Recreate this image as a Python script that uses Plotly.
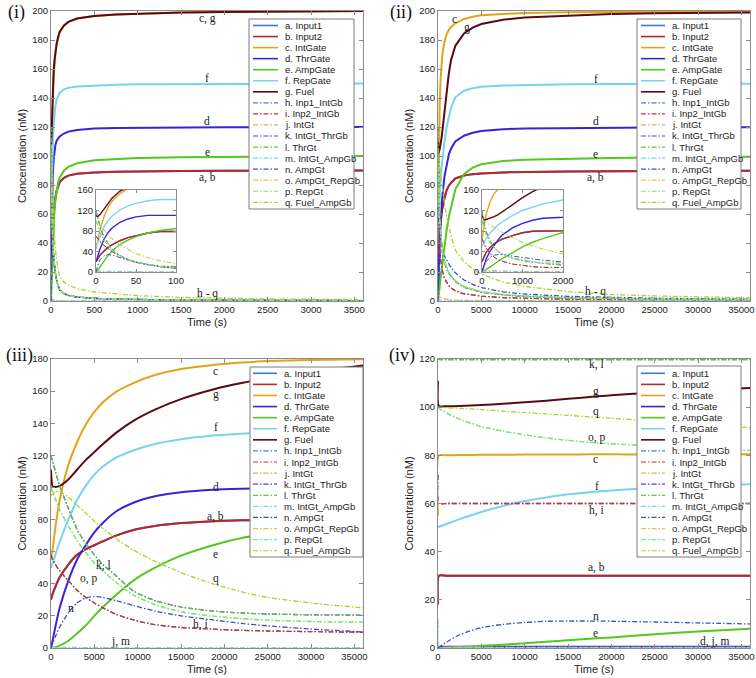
import plotly.graph_objects as go

W, H = 756, 678

NAMES = ["a. Input1", "b. Input2", "c. IntGate", "d. ThrGate", "e. AmpGate", "f. RepGate", "g. Fuel",
         "h. Inp1_IntGb", "i. Inp2_IntGb", "j. IntGt", "k. IntGt_ThrGb", "l. ThrGt", "m. IntGt_AmpGb",
         "n. AmpGt", "o. AmpGt_RepGb", "p. RepGt", "q. Fuel_AmpGb"]
COLORS = ["#4278cc", "#b8262a", "#e3a41a", "#3a22d8", "#55c81e", "#7ad2f3", "#5a0a16",
          "#4a80d0", "#c8352c", "#e6aa55", "#5a3ae8", "#5fc83a", "#70d8f2",
          "#3a52c0", "#f0c24a", "#6cec8c", "#a8d42a"]
SOLID = [True] * 7 + [False] * 10

# ---------------- panel (i) ----------------
P1_T = [0, 2, 5, 10, 15, 20, 30, 40, 50, 65, 80, 100, 150, 200, 300, 500, 750, 1000, 1500, 2000, 2500, 3000, 3600]
P1_A = [20, 26, 33, 41, 48, 53, 61, 67, 71, 76, 79, 82, 85, 86.5, 87.8, 88.7, 89.2, 89.5, 89.7, 89.8, 89.9, 90, 90]
P1_B = [20, 26, 33, 41, 48, 53, 61, 67, 71, 76, 79, 82, 85, 86.5, 87.8, 88.7, 89.2, 89.5, 89.7, 89.8, 89.9, 90, 90]
P1_C = [45, 60, 82, 108, 126, 138, 153, 163, 170, 177, 181.5, 185.5, 190, 192.5, 194.8, 196.6, 197.6, 198.2, 198.9, 199.3, 199.6, 199.8, 200]
P1_D = [20, 30, 45, 64, 77, 86, 97, 103.5, 107.5, 110.5, 112, 113.5, 115.5, 116.8, 118, 118.9, 119.3, 119.5, 119.7, 119.8, 119.9, 120, 120]
P1_E = [0, 3, 10, 22, 32, 41, 54, 62, 69, 76, 81, 85, 90, 92.5, 95, 97, 98.1, 98.7, 99.2, 99.5, 99.7, 99.9, 100]
P1_F = [50, 58, 70, 88, 100, 109, 121, 129, 134, 139, 141.5, 143.5, 146, 147, 148, 148.7, 149.1, 149.4, 149.6, 149.8, 149.9, 150, 150]
P1_G = [110, 108, 112, 122, 134, 144, 158, 166, 171.5, 177.5, 181.5, 185.5, 190, 192.5, 194.8, 196.6, 197.6, 198.2, 198.9, 199.3, 199.6, 199.8, 200]
P1_H = [70, 65, 59, 52, 46, 40, 31, 24, 19, 14, 10.5, 7.5, 5, 3.8, 2.7, 1.8, 1.3, 1, 0.7, 0.5, 0.4, 0.35, 0.3]
P1_I = [70, 65, 59, 52, 46, 40, 31, 24, 19, 14, 10.5, 7.5, 5, 3.8, 2.7, 1.8, 1.3, 1, 0.7, 0.5, 0.4, 0.35, 0.3]
P1_J = [0, 1, 1.5, 1.5, 1.2, 1, 0.7, 0.5, 0.4, 0.3, 0.2, 0.2, 0.1, 0.1, 0.1, 0, 0, 0, 0, 0, 0, 0, 0]
P1_K = [120, 105, 88, 68, 55, 44, 32, 24.5, 19.5, 14.5, 11, 8, 5.2, 3.9, 2.8, 1.8, 1.3, 1, 0.7, 0.5, 0.4, 0.35, 0.3]
P1_L = [120, 105, 88, 68, 55, 44, 32, 24.5, 19.5, 14.5, 11, 8, 5.2, 3.9, 2.8, 1.8, 1.3, 1, 0.7, 0.5, 0.4, 0.35, 0.3]
P1_M = [0, 0.5, 0.8, 0.8, 0.6, 0.5, 0.4, 0.3, 0.2, 0.2, 0.1, 0.1, 0.1, 0, 0, 0, 0, 0, 0, 0, 0, 0, 0]
P1_N = [0, 12, 24, 32, 34, 33, 28, 23, 18.5, 14, 10.5, 7.5, 5, 3.8, 2.7, 1.8, 1.3, 1, 0.7, 0.5, 0.4, 0.35, 0.3]
P1_O = [100, 90, 77, 62, 51, 42, 31, 24, 19, 14, 10.5, 7.5, 5, 3.8, 2.7, 1.8, 1.3, 1, 0.7, 0.5, 0.4, 0.35, 0.3]
P1_P = [100, 90, 77, 62, 51, 42, 31, 24, 19, 14, 10.5, 7.5, 5, 3.8, 2.7, 1.8, 1.3, 1, 0.7, 0.5, 0.4, 0.35, 0.3]
P1_Q = [100, 97, 92, 82, 73, 65, 53, 44, 36, 28, 22, 16.5, 13, 11, 8.5, 6.2, 4.8, 3.7, 2.5, 1.8, 1.4, 1.2, 1.0]

# ---------------- panel (ii) ----------------
P2_T = [0, 50, 100, 200, 300, 400, 500, 750, 1000, 1250, 1500, 2000, 3000, 4000, 5000, 7500, 10000, 15000, 20000, 25000, 30000, 36000]
P2_A = [20, 30, 38, 48, 55, 60, 64, 71, 76.5, 79.5, 81.5, 84.5, 86.5, 87.5, 88, 88.7, 89, 89.3, 89.5, 89.6, 89.7, 89.8]
P2_B = [20, 30, 38, 48, 55, 60, 64, 71, 76.5, 79.5, 81.5, 84.5, 86.5, 87.5, 88, 88.7, 89, 89.3, 89.5, 89.6, 89.7, 89.8]
P2_C = [60, 92, 112, 137, 153, 163, 170, 179, 184, 187, 189, 191.5, 194.5, 196, 197, 198, 198.6, 199.1, 199.4, 199.6, 199.7, 199.8]
P2_D = [0, 14, 25, 41, 53, 63, 72, 86, 95, 101, 105, 110, 114, 116, 117.2, 118.4, 119, 119.4, 119.6, 119.7, 119.8, 119.9]
P2_E = [0, 2, 5, 10, 16, 21, 26, 38, 49, 58, 65, 77, 87.5, 92, 94.3, 96.5, 97.5, 98.3, 98.7, 99, 99.2, 99.4]
P2_F = [50, 58, 65, 76, 85, 92, 98, 110, 120, 127, 133, 140.5, 145, 146.8, 147.7, 148.6, 149, 149.4, 149.6, 149.7, 149.8, 149.9]
P2_G = [110, 102, 102.5, 105, 108, 112, 117, 131, 145, 157, 166, 176, 184.5, 188.5, 191, 194, 195.5, 197, 198, 198.5, 198.8, 199]
P2_H = [65, 55, 47, 36, 29, 24, 21, 15.5, 12.5, 10.5, 9, 7, 5, 4, 3.3, 2.3, 1.8, 1.2, 0.9, 0.7, 0.6, 0.5]
P2_I = [65, 55, 47, 36, 29, 24, 21, 15.5, 12.5, 10.5, 9, 7, 5, 4, 3.3, 2.3, 1.8, 1.2, 0.9, 0.7, 0.6, 0.5]
P2_J = [0, 3, 3.5, 3, 2.5, 2, 1.8, 1.4, 1.1, 0.9, 0.8, 0.6, 0.4, 0.3, 0.25, 0.2, 0.15, 0.1, 0.1, 0.1, 0.1, 0.1]
P2_K = [120, 95, 80, 60, 48, 40, 35, 27, 22, 19, 17, 13.5, 9.5, 7.5, 6, 4.2, 3.2, 2.1, 1.6, 1.3, 1.1, 0.9]
P2_L = [120, 95, 80, 60, 48, 40, 35, 27, 22, 19, 17, 13.5, 9.5, 7.5, 6, 4.2, 3.2, 2.1, 1.6, 1.3, 1.1, 0.9]
P2_M = [0, 1, 1, 0.8, 0.6, 0.5, 0.4, 0.3, 0.2, 0.2, 0.1, 0.1, 0.1, 0.1, 0, 0, 0, 0, 0, 0, 0, 0]
P2_N = [0, 12, 20, 29, 33, 34, 34, 31, 28, 25.5, 23, 19.5, 14.5, 11.5, 9.3, 6.3, 4.8, 3.2, 2.4, 1.9, 1.6, 1.3]
P2_O = [100, 85, 73, 57, 47, 40, 35, 27.5, 23, 20, 17.5, 14, 10, 8, 6.5, 4.5, 3.4, 2.3, 1.7, 1.4, 1.2, 1.0]
P2_P = [100, 85, 73, 57, 47, 40, 35, 27.5, 23, 20, 17.5, 14, 10, 8, 6.5, 4.5, 3.4, 2.3, 1.7, 1.4, 1.2, 1.0]
P2_Q = [100, 99, 97, 92, 87, 82, 77, 67, 58, 51, 45, 35, 27, 22, 18.5, 13, 10, 6.5, 4.5, 3.5, 2.8, 2.2]

# ---------------- panel (iii) ----------------
P3_T = [0, 200, 500, 1000, 2000, 3000, 4000, 5000, 6000, 7500, 9500, 12000, 15000, 18700, 22000, 25000, 30000, 36000]
P3_A = [30, 34, 38, 44, 52, 58, 61.5, 64, 66.5, 70, 73.5, 76, 77.8, 79, 79.5, 79.7, 79.9, 80]
P3_B = [30, 34, 38, 44, 52, 58, 61.5, 64, 66.5, 70, 73.5, 76, 77.8, 79, 79.5, 79.7, 79.9, 80]
P3_C = [55, 62, 75, 92, 114, 128, 139, 147, 153, 159.5, 165, 170, 173.8, 176.3, 177.8, 178.7, 179.4, 179.8]
P3_D = [0, 5, 13, 25, 42, 55, 64, 72, 78, 85, 90.5, 94.5, 97, 98.6, 99.2, 99.5, 99.8, 100]
P3_E = [0, 0, 0.5, 1.5, 4.5, 9, 14, 20, 25.5, 33, 42, 50, 57.5, 64, 68.5, 71, 74, 76.5]
P3_F = [50, 53, 58, 66, 80, 92, 101, 108, 113, 118.5, 123, 127, 130, 132.3, 133.5, 134.2, 134.8, 135.2]
P3_G = [111, 100.5, 100.3, 101, 105, 111, 117, 122, 127, 134, 141.5, 148.5, 155, 161, 165, 168, 172, 176]
P3_H = [58, 55, 52, 48, 42, 36, 31.5, 28, 25, 21, 17.5, 14.5, 12.8, 11.7, 11, 10.6, 10.2, 9.8]
P3_I = [58, 55, 52, 48, 42, 36, 31.5, 28, 25, 21, 17.5, 14.5, 12.8, 11.7, 11, 10.6, 10.2, 9.8]
P3_J = [0, 0.3, 0.4, 0.4, 0.3, 0.3, 0.2, 0.2, 0.2, 0.1, 0.1, 0.1, 0.1, 0, 0, 0, 0, 0]
P3_K = [120, 116, 110, 101, 87, 74, 65, 58, 52, 45, 35.5, 29.5, 25.5, 23, 21.8, 21.2, 20.7, 20.5]
P3_L = [120, 116, 110, 101, 87, 74, 65, 58, 52, 45, 35.5, 29.5, 25.5, 23, 21.8, 21.2, 20.7, 20.5]
P3_M = [0, 0.2, 0.3, 0.3, 0.2, 0.2, 0.1, 0.1, 0.1, 0.1, 0, 0, 0, 0, 0, 0, 0, 0]
P3_N = [0, 3, 7, 13, 22, 28, 31.3, 32, 31.5, 29.5, 26.5, 23, 20, 17.5, 15.3, 13.8, 11.8, 10]
P3_O = [100, 97, 93, 86, 76, 67, 59.5, 53, 48, 41, 33, 27, 22.5, 19.8, 18.3, 17.3, 16.5, 16]
P3_P = [100, 97, 93, 86, 76, 67, 59.5, 53, 48, 41, 33, 27, 22.5, 19.8, 18.3, 17.3, 16.5, 16]
P3_Q = [95, 96, 97.5, 97.5, 94, 89, 84, 79, 74.5, 68, 61, 54, 47, 40, 35, 31.5, 28, 25]

# ---------------- panel (iv) ----------------
P4_T = [0, 100, 1000, 2500, 5000, 7500, 10000, 12500, 15000, 17500, 20000, 25000, 30000, 36000]
P4_A = [18, 30, 30, 30, 30, 30, 30, 30, 30, 30, 30, 30, 30, 30]
P4_B = [18, 30, 30, 30, 30, 30, 30, 30, 30, 30, 30, 30, 30, 30]
P4_C = [55, 80, 80, 80.1, 80.2, 80.2, 80.3, 80.3, 80.3, 80.4, 80.4, 80.4, 80.5, 80.5]
P4_D = [0, 0.5, 0.5, 0.5, 0.5, 0.5, 0.5, 0.5, 0.5, 0.5, 0.5, 0.5, 0.5, 0.5]
P4_E = [0, 0, 0.2, 0.4, 0.9, 1.4, 2, 2.6, 3.2, 3.8, 4.4, 5.7, 6.9, 8]
P4_F = [50, 50.3, 51.5, 53.5, 56.5, 59, 61, 62.5, 63.8, 64.7, 65.4, 66.5, 67.3, 68]
P4_G = [111, 100.5, 100.4, 100.5, 100.9, 101.4, 102, 102.7, 103.5, 104.2, 105, 106, 107, 108]
P4_H = [72, 60, 60, 60, 60, 60, 60, 60, 60, 60, 60, 60, 60, 60]
P4_I = [72, 60, 60, 60, 60, 60, 60, 60, 60, 60, 60, 60, 60, 60]
P4_J = [12, 0.4, 0.3, 0.3, 0.3, 0.3, 0.3, 0.3, 0.3, 0.3, 0.3, 0.3, 0.3, 0.3]
P4_K = [120, 119.8, 119.8, 119.8, 119.8, 119.8, 119.8, 119.8, 119.8, 119.8, 119.8, 119.8, 119.8, 119.8]
P4_L = [120, 119.8, 119.8, 119.8, 119.8, 119.8, 119.8, 119.8, 119.8, 119.8, 119.8, 119.8, 119.8, 119.8]
P4_M = [10, 0.3, 0.2, 0.2, 0.2, 0.2, 0.2, 0.2, 0.2, 0.2, 0.2, 0.2, 0.2, 0.2]
P4_N = [0, 0.3, 2.5, 5.5, 8.5, 9.8, 10.6, 11.1, 11.2, 11.2, 11.1, 10.8, 10.4, 10]
P4_O = [100, 99.6, 97.5, 95, 92, 90, 88.5, 87.2, 86.2, 85.4, 84.8, 83.8, 82.8, 82]
P4_P = [100, 99.6, 97.5, 95, 92, 90, 88.5, 87.2, 86.2, 85.4, 84.8, 83.8, 82.8, 82]
P4_Q = [100, 100, 99.8, 99.5, 99, 98.3, 97.8, 97.2, 96.6, 96, 95.4, 94.2, 93, 91.5]

P1_SERIES = [P1_A, P1_B, P1_C, P1_D, P1_E, P1_F, P1_G, P1_H, P1_I, P1_J, P1_K, P1_L, P1_M, P1_N, P1_O, P1_P, P1_Q]
P2_SERIES = [P2_A, P2_B, P2_C, P2_D, P2_E, P2_F, P2_G, P2_H, P2_I, P2_J, P2_K, P2_L, P2_M, P2_N, P2_O, P2_P, P2_Q]
P3_SERIES = [P3_A, P3_B, P3_C, P3_D, P3_E, P3_F, P3_G, P3_H, P3_I, P3_J, P3_K, P3_L, P3_M, P3_N, P3_O, P3_P, P3_Q]
P4_SERIES = [P4_A, P4_B, P4_C, P4_D, P4_E, P4_F, P4_G, P4_H, P4_I, P4_J, P4_K, P4_L, P4_M, P4_N, P4_O, P4_P, P4_Q]

# curve labels: (text, x, y) in data coordinates
P1_LABELS = [("c, g", 1800, 195), ("f", 1800, 154), ("d", 1800, 124), ("e", 1800, 103), ("a, b", 1800, 85), ("h - q", 1800, 5.5)]
P2_LABELS = [("c", 1900, 194.5), ("g", 3400, 188.5), ("f", 18200, 153), ("d", 18200, 124), ("e", 18200, 101.5), ("a, b", 18200, 85), ("h - q", 18200, 6.5)]
P3_LABELS = [("c", 19000, 172.5), ("g", 19000, 158), ("f", 19000, 137.5), ("d", 19000, 100.5), ("a, b", 19000, 82),
             ("e", 19000, 58.5), ("q", 19000, 43.5), ("k, l", 6100, 51.5), ("o, p", 4400, 43), ("n", 2300, 25),
             ("h, i", 17200, 14.5), ("j, m", 8000, 4)]
P4_LABELS = [("k, l", 18300, 117.7), ("g", 18200, 106.6), ("q", 18200, 98), ("o, p", 18300, 87.4), ("c", 18200, 78.4),
             ("f", 18300, 67.4), ("h, i", 18300, 57.1), ("a, b", 18300, 33.4), ("n", 18200, 13.1), ("e", 18200, 6.2),
             ("d, j, m", 31900, 2.8)]

SANS = "Liberation Sans, Arial, sans-serif"
SERIF = "Liberation Serif, Times New Roman, serif"
FRAME = "#8c8c8c"
TXT = "#222222"
DASHDOT = "5px,2px,1.5px,2px"


def px_x(p):
    return p / W


def px_y(p):
    return 1 - p / H


fig = go.Figure()

SETS = [
    ("", P1_T, P1_SERIES, "linear"),
    ("2", P2_T, P2_SERIES, "linear"),
    ("3", P3_T, P3_SERIES, "spline"),
    ("4", P4_T, P4_SERIES, "spline"),
    ("5", P1_T, P1_SERIES, "linear"),
    ("6", P2_T, P2_SERIES, "linear"),
]

for ax, T, SER, shape in SETS:
    inset = ax in ("5", "6")
    for k, ys in enumerate(SER):
        line = dict(color=COLORS[k], width=(1.4 if inset else 2.0) if SOLID[k] else (1.0 if inset else 1.3),
                    shape=shape)
        if shape == "spline":
            line["smoothing"] = 0.6
        if not SOLID[k]:
            line["dash"] = DASHDOT
        fig.add_trace(go.Scatter(x=T, y=ys, mode="lines", line=line, name=NAMES[k], showlegend=False,
                                 hoverinfo="skip", xaxis="x" + ax, yaxis="y" + ax, cliponaxis=True))

BOXES = {
    "": (51, 363, 11, 301),
    "2": (438, 750, 11, 301),
    "3": (51, 363, 359, 648),
    "4": (438, 750, 359, 648),
    "5": (96, 176, 190, 272),
    "6": (482, 563, 190, 272),
}
XR = {"": [0, 3600], "2": [0, 36000], "3": [0, 36000], "4": [0, 36000], "5": [0, 100], "6": [0, 2000]}
YR = {"": [0, 200], "2": [0, 200], "3": [0, 180], "4": [0, 120], "5": [0, 160], "6": [0, 160]}
XD = {"": 500, "2": 5000, "3": 5000, "4": 5000, "5": 50, "6": 1000}
YD = {"": 20, "2": 20, "3": 20, "4": 20, "5": 40, "6": 40}

layout = {}
for ax, (x0, x1, y0, y1) in BOXES.items():
    inset = ax in ("5", "6")
    common = dict(showline=True, linecolor=FRAME, linewidth=1, mirror="ticks", ticks="inside",
                  ticklen=3 if inset else 4, tickcolor=FRAME, tickwidth=1, showgrid=False, zeroline=False,
                  tickfont=dict(family=SANS, size=9.5, color=TXT), automargin=False, fixedrange=True)
    xa = dict(common, domain=[px_x(x0), px_x(x1)], range=XR[ax], dtick=XD[ax], tick0=0, tickformat="d",
              anchor="y" + ax)
    ya = dict(common, domain=[px_y(y1), px_y(y0)], range=YR[ax], dtick=YD[ax], tick0=0, tickformat="d",
              anchor="x" + ax)
    if not inset:
        xa["title"] = dict(text="Time (s)", font=dict(family=SANS, size=11, color=TXT), standoff=3)
        ya["title"] = dict(text="Concentration (nM)", font=dict(family=SANS, size=11, color=TXT), standoff=3)
    layout["xaxis" + ax] = xa
    layout["yaxis" + ax] = ya

shapes = []
annotations = []

for ax in ("5", "6"):
    shapes.append(dict(type="rect", xref="x" + ax, yref="y" + ax, x0=XR[ax][0], x1=XR[ax][1],
                       y0=YR[ax][0], y1=YR[ax][1], fillcolor="white", line=dict(width=0), layer="below"))

LEGENDS = [
    (249, 354, 19, 209, 253, 278, 283, 25.5, 11.05),
    (637, 741, 19, 209, 641, 665, 670, 25.5, 11.05),
    (250, 363, 367, 557, 253, 277, 282, 373.3, 11.09),
    (637, 741, 366, 557, 641, 665, 670, 373.3, 11.09),
]
for bx0, bx1, by0, by1, sx0, sx1, tx, fy, st in LEGENDS:
    shapes.append(dict(type="rect", xref="paper", yref="paper", x0=px_x(bx0), x1=px_x(bx1),
                       y0=px_y(by1), y1=px_y(by0), fillcolor="white",
                       line=dict(color="#7a7a7a", width=1), layer="above"))
    for k, name in enumerate(NAMES):
        yy = px_y(fy + k * st)
        ln = dict(color=COLORS[k], width=1.6 if SOLID[k] else 1.2)
        if not SOLID[k]:
            ln["dash"] = DASHDOT
        shapes.append(dict(type="line", xref="paper", yref="paper", x0=px_x(sx0), x1=px_x(sx1),
                           y0=yy, y1=yy, line=ln, layer="above"))
        annotations.append(dict(text=name, xref="paper", yref="paper", x=px_x(tx), y=yy,
                                xanchor="left", yanchor="middle", showarrow=False,
                                font=dict(family=SANS, size=9.5, color=TXT)))

for ax, labs in (("", P1_LABELS), ("2", P2_LABELS), ("3", P3_LABELS), ("4", P4_LABELS)):
    for txt, xv, yv in labs:
        annotations.append(dict(text=txt, xref="x" + ax, yref="y" + ax, x=xv, y=yv, showarrow=False,
                                xanchor="center", yanchor="middle",
                                font=dict(family=SERIF, size=11.5, color=TXT)))

for txt, xp, yp in (("(i)", 16, 13), ("(ii)", 401, 13), ("(iii)", 19, 355), ("(iv)", 402, 355)):
    annotations.append(dict(text=txt, xref="paper", yref="paper", x=px_x(xp), y=px_y(yp), showarrow=False,
                            xanchor="center", yanchor="middle", font=dict(family=SERIF, size=18, color="#111")))

fig.update_layout(width=W, height=H, margin=dict(l=0, r=0, t=0, b=0), paper_bgcolor="white",
                  plot_bgcolor="white", showlegend=False, shapes=shapes, annotations=annotations, **layout)

fig.write_html("out.html", config={"displayModeBar": False, "staticPlot": True},
               post_script="document.body.style.margin='0';document.body.style.overflow='hidden';")
